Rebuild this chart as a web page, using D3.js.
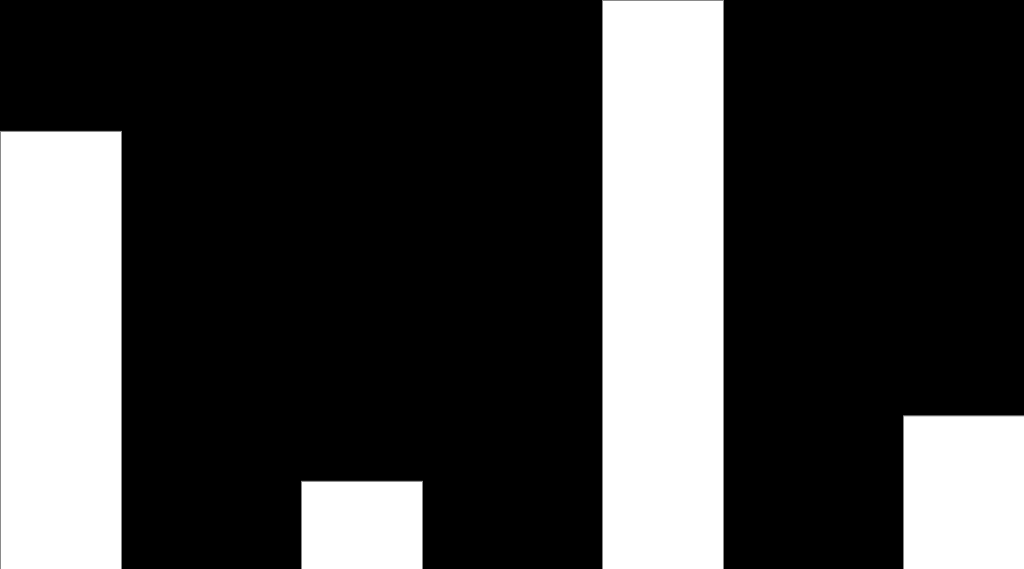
<!DOCTYPE html>
<html>
<head>
<meta charset="utf-8">
<script src="https://cdn.jsdelivr.net/npm/d3@7"></script>
<style>
    html, body { margin: 0; padding: 0; background: #000; overflow: hidden; }
    svg { display: block; }
</style>
</head>
<body>
<svg id="chart"></svg>
<script>
// Bar data (relative heights, tallest = 100)
const categories = ["A", "B", "C", "D"];
const values = [77, 15.5, 100, 27];

const width = 1024;
const height = 569;

const svg = d3.select("#chart").attr("width", width).attr("height", height);

svg.append("rect").attr("width", width).attr("height", height).attr("fill", "#000");

const x = d3.scaleBand().domain(categories).range([0, width]).paddingInner(0.598).paddingOuter(0);
const y = d3.scaleLinear().domain([0, 100]).range([height, 0]);

svg.selectAll(".bar")
    .data(categories)
    .enter().append("rect")
    .attr("class", "bar")
    .attr("x", d => x(d) + 0.5)
    .attr("y", (d, i) => y(values[i]) + 0.5)
    .attr("width", x.bandwidth())
    .attr("height", (d, i) => height - y(values[i]))
    .attr("fill", "#fff")
    .attr("stroke", "#8a8a8a")
    .attr("stroke-width", 1);
</script>
</body>
</html>
